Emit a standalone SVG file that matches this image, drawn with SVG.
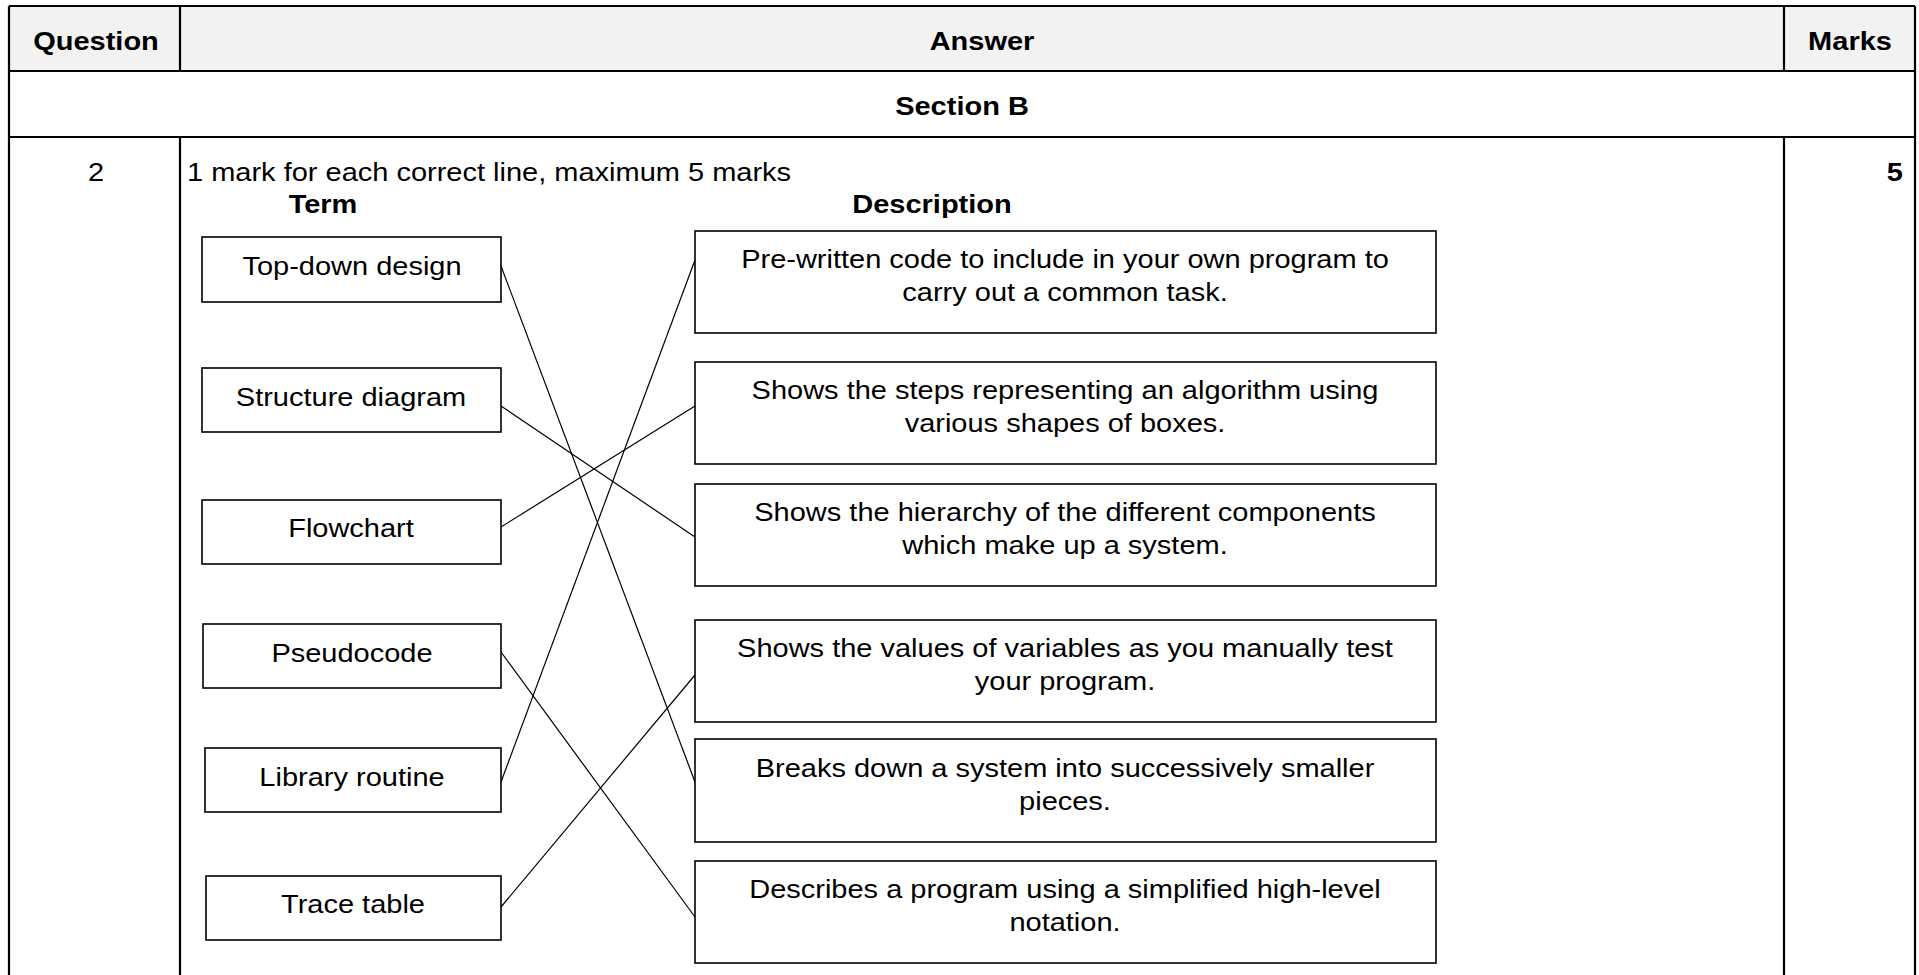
<svg xmlns="http://www.w3.org/2000/svg" width="1919" height="975" viewBox="0 0 1919 975">
<style>
text{font-family:"Liberation Sans",Arial,sans-serif;font-size:25px;fill:#000}
.b{font-weight:bold}
.m{text-anchor:middle}
.tl{stroke:#000;stroke-width:2.2;fill:none}
.box{fill:#fff;stroke:#000;stroke-width:1.6}
.c{stroke:#000;stroke-width:1.2;fill:none}
</style>
<rect width="1919" height="975" fill="#fff"/>
<g id="table">
<rect x="9" y="6" width="1906" height="65" fill="#f2f2f2"/>
<path class="tl" d="M9 6H1915M9 71H1915M9 137H1915M9 6V975M1915 6V975M180 6V71M1784 6V71M180 137V975M1784 137V975"/>
<text class="b m" transform="translate(96 50) scale(1.16 1)">Question</text>
<text class="b m" transform="translate(982 50) scale(1.16 1)">Answer</text>
<text class="b m" transform="translate(1850 50) scale(1.16 1)">Marks</text>
<text class="b m" transform="translate(962 115) scale(1.16 1)">Section B</text>
<text class="m" transform="translate(96 181) scale(1.16 1)">2</text>
<text transform="translate(187 181) scale(1.16 1)">1 mark for each correct line, maximum 5 marks</text>
<text class="b" style="text-anchor:end" transform="translate(1903 181) scale(1.16 1)">5</text>
<text class="b m" transform="translate(323 213) scale(1.16 1)">Term</text>
<text class="b m" transform="translate(932 213) scale(1.16 1)">Description</text>
</g>
<g id="connectors">
<line class="c" x1="501" y1="266" x2="695" y2="782"/>
<line class="c" x1="501" y1="406" x2="695" y2="537"/>
<line class="c" x1="501" y1="527" x2="695" y2="406"/>
<line class="c" x1="501" y1="652" x2="695" y2="917"/>
<line class="c" x1="501" y1="782" x2="695" y2="260"/>
<line class="c" x1="501" y1="907" x2="695" y2="675"/>
</g>
<g id="term-topdown">
<rect class="box" x="202" y="237" width="299" height="65"/>
<text class="m" transform="translate(352 275) scale(1.16 1)">Top-down design</text>
</g>
<g id="term-structure">
<rect class="box" x="202" y="368" width="299" height="64"/>
<text class="m" transform="translate(351 406) scale(1.16 1)">Structure diagram</text>
</g>
<g id="term-flowchart">
<rect class="box" x="202" y="500" width="299" height="64"/>
<text class="m" transform="translate(351 537) scale(1.16 1)">Flowchart</text>
</g>
<g id="term-pseudocode">
<rect class="box" x="203" y="624" width="298" height="64"/>
<text class="m" transform="translate(352 662) scale(1.16 1)">Pseudocode</text>
</g>
<g id="term-library">
<rect class="box" x="205" y="748" width="296" height="64"/>
<text class="m" transform="translate(352 786) scale(1.16 1)">Library routine</text>
</g>
<g id="term-trace">
<rect class="box" x="206" y="876" width="295" height="64"/>
<text class="m" transform="translate(353 913) scale(1.16 1)">Trace table</text>
</g>
<g id="desc-prewritten">
<rect class="box" x="695" y="231" width="741" height="102"/>
<text class="m" transform="translate(1065 268) scale(1.16 1)">Pre-written code to include in your own program to</text>
<text class="m" transform="translate(1065 301) scale(1.16 1)">carry out a common task.</text>
</g>
<g id="desc-steps">
<rect class="box" x="695" y="362" width="741" height="102"/>
<text class="m" transform="translate(1065 399) scale(1.16 1)">Shows the steps representing an algorithm using</text>
<text class="m" transform="translate(1065 432) scale(1.16 1)">various shapes of boxes.</text>
</g>
<g id="desc-hierarchy">
<rect class="box" x="695" y="484" width="741" height="102"/>
<text class="m" transform="translate(1065 521) scale(1.16 1)">Shows the hierarchy of the different components</text>
<text class="m" transform="translate(1065 554) scale(1.16 1)">which make up a system.</text>
</g>
<g id="desc-values">
<rect class="box" x="695" y="620" width="741" height="102"/>
<text class="m" transform="translate(1065 657) scale(1.16 1)">Shows the values of variables as you manually test</text>
<text class="m" transform="translate(1065 690) scale(1.16 1)">your program.</text>
</g>
<g id="desc-breaks">
<rect class="box" x="695" y="739" width="741" height="103"/>
<text class="m" transform="translate(1065 777) scale(1.16 1)">Breaks down a system into successively smaller</text>
<text class="m" transform="translate(1065 810) scale(1.16 1)">pieces.</text>
</g>
<g id="desc-describes">
<rect class="box" x="695" y="861" width="741" height="102"/>
<text class="m" transform="translate(1065 898) scale(1.16 1)">Describes a program using a simplified high-level</text>
<text class="m" transform="translate(1065 931) scale(1.16 1)">notation.</text>
</g>
</svg>
